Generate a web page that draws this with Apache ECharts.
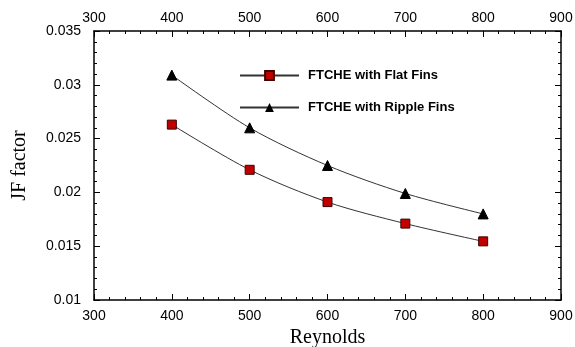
<!DOCTYPE html>
<html>
<head>
<meta charset="utf-8">
<script src="https://cdn.jsdelivr.net/npm/echarts@6/dist/echarts.min.js"></script>
<style>
  html, body { margin: 0; padding: 0; background: #fff; }
  #chart { width: 575px; height: 347px; }
</style>
</head>
<body>
<div id="chart"></div>
<script>
  // data
  var reynolds = [400, 500, 600, 700, 800];
  var flatFins = [0.0263, 0.0221, 0.0191, 0.0171, 0.01545];
  var rippleFins = [0.0309, 0.0260, 0.0225, 0.0199, 0.0180];
  var seriesNames = ['FTCHE with Flat Fins', 'FTCHE with Ripple Fins'];

  function pairs(xs, ys) {
    return xs.map(function (x, i) { return [x, ys[i]]; });
  }

  var chart = echarts.init(document.getElementById('chart'));

  var labelFont = { color: '#000', fontFamily: 'Liberation Sans, Arial', fontSize: 14 };
  var titleFont = { color: '#000', fontFamily: 'Liberation Serif, Times New Roman', fontSize: 20 };

  // common axis look: ticks inside, minor ticks, black frame
  function axisBase(extra) {
    var base = {
      type: 'value',
      axisLine: { show: true, lineStyle: { color: '#000', width: 1.5 } },
      axisTick: { show: true, inside: true, length: 6, lineStyle: { color: '#000' } },
      minorTick: { show: true, splitNumber: 5, length: 3, lineStyle: { color: '#000' } },
      splitLine: { show: false }
    };
    return Object.assign(base, extra);
  }

  chart.setOption({
    animation: false,
    backgroundColor: '#fff',
    grid: { left: 94, right: 14, top: 31, bottom: 47, outerBoundsMode: 'none' },
    legend: {
      orient: 'vertical',
      left: 239,
      top: 69,
      padding: 0,
      itemWidth: 59,
      itemHeight: 11,
      itemGap: 19,
      data: seriesNames,
      textStyle: { color: '#000', fontWeight: 'bold', fontSize: 13, fontFamily: 'Liberation Sans, Arial', padding: [0, 0, 0, 4] }
    },
    xAxis: [
      axisBase({
        min: 300, max: 900, interval: 100, position: 'bottom',
        name: 'Reynolds', nameLocation: 'middle', nameGap: 27, nameTextStyle: titleFont,
        axisLabel: Object.assign({ margin: 9 }, labelFont)
      }),
      axisBase({
        min: 300, max: 900, interval: 100, position: 'top',
        axisLabel: Object.assign({ margin: 6 }, labelFont)
      })
    ],
    yAxis: [
      axisBase({
        min: 0.01, max: 0.035, interval: 0.005, position: 'left',
        name: 'JF factor', nameLocation: 'middle', nameGap: 64, nameTextStyle: titleFont,
        axisLabel: Object.assign({ margin: 13, formatter: function (v) { return String(+v.toFixed(3)); } }, labelFont)
      }),
      axisBase({
        min: 0.01, max: 0.035, interval: 0.005, position: 'right',
        axisLabel: { show: false }
      })
    ],
    series: [
      {
        name: seriesNames[0],
        type: 'line',
        smooth: 0.3,
        symbol: 'rect',
        symbolSize: 9,
        itemStyle: { color: '#c00000', borderColor: '#400000', borderWidth: 1 },
        lineStyle: { color: '#333', width: 1 },
        data: pairs(reynolds, flatFins)
      },
      {
        name: seriesNames[1],
        type: 'line',
        smooth: 0.3,
        symbol: 'triangle',
        symbolSize: 10,
        itemStyle: { color: '#000', borderColor: '#000' },
        lineStyle: { color: '#333', width: 1 },
        data: pairs(reynolds, rippleFins)
      }
    ]
  });
</script>
</body>
</html>
